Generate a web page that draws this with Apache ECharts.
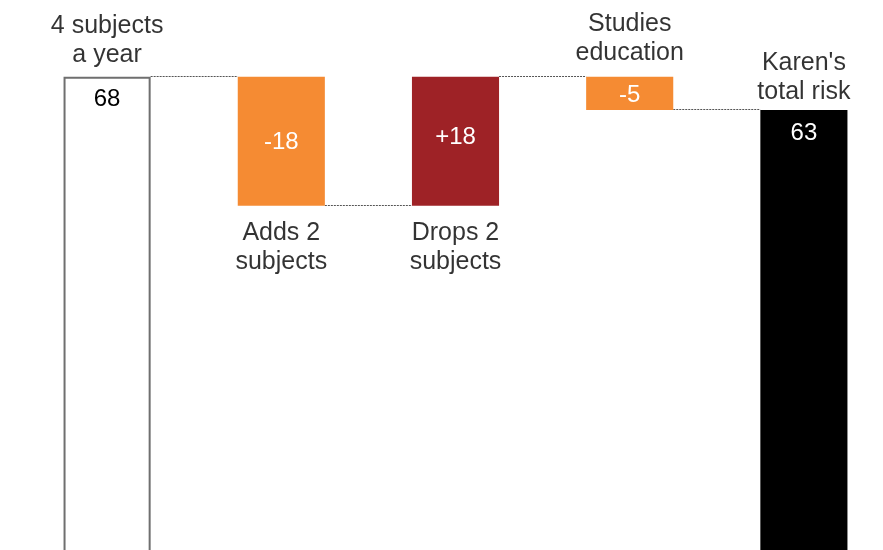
<!DOCTYPE html>
<html>
<head>
<meta charset="utf-8">
<script src="https://cdn.jsdelivr.net/npm/echarts@6/dist/echarts.min.js"></script>
<style>
html,body{margin:0;padding:0;background:#fff;}
#c{width:883px;height:550px;}
</style>
</head>
<body>
<div id="c"></div>
<script>
// Data
const categories = ['4 subjects\na year', 'Adds 2\nsubjects', 'Drops 2\nsubjects', 'Studies\neducation', "Karen's\ntotal risk"];
const kinds = ['total', 'delta', 'delta', 'delta', 'total'];
const changes = [68, -18, 18, -4.65, 63.35];
const valueLabels = ['68', '-18', '+18', '-5', '63'];
const catLabelSide = ['top', 'bottom', 'bottom', 'top', 'top'];

const FONT = "'Liberation Sans', Arial, sans-serif";
const colors = ['#ffffff', '#F58B33', '#9E2226', '#F58B33', '#000000'];
const labelColors = ['#000000', '#ffffff', '#ffffff', '#ffffff', '#ffffff'];

// Waterfall geometry from data
const bases = [], heights = [], levels = [];
let running = 0;
for (let i = 0; i < changes.length; i++) {
  if (kinds[i] === 'total') {
    bases.push(0); heights.push(changes[i]); running = changes[i];
  } else {
    const next = running + changes[i];
    bases.push(Math.min(running, next));
    heights.push(Math.abs(changes[i]));
    running = next;
  }
  levels.push(running);
}

const valueLabelCfg = [
  {position: 'insideTop', distance: 11},
  {position: 'inside', offset: [0, 1]},
  {position: 'inside', offset: [0, -4]},
  {position: 'inside', offset: [0, 2]},
  {position: 'insideTop', distance: 11}
];
const catDist = [7, 13, 13, 9, 3];

const barData = heights.map((h, i) => ({
  value: h,
  itemStyle: i === 0 ? {color: colors[i], borderColor: '#6f6f6f', borderWidth: 2}
                     : {color: colors[i]},
  label: Object.assign({
    show: true,
    formatter: valueLabels[i],
    color: labelColors[i],
    fontSize: 24,
    fontFamily: FONT
  }, valueLabelCfg[i])
}));

const connectorData = [];
for (let i = 0; i < levels.length - 1; i++) connectorData.push([i, levels[i]]);

const scatterData = categories.map((c, i) => {
  const top = bases[i] + heights[i];
  const y = catLabelSide[i] === 'top' ? top : bases[i];
  return {
    value: [i, y],
    label: {
      show: true,
      position: catLabelSide[i],
      distance: catDist[i],
      formatter: c
    }
  };
});

const chart = echarts.init(document.getElementById('c'), null, {renderer: 'canvas'});
chart.setOption({
  animation: false,
  backgroundColor: '#ffffff',
  textStyle: {fontFamily: FONT, color: '#000000'},
  grid: {left: 20, right: -8, top: 76.7, bottom: -14, containLabel: false, outerBoundsMode: 'none'},
  xAxis: {type: 'category', data: categories, show: false},
  yAxis: {type: 'value', min: 0, max: 68, show: false, splitLine: {show: false}},
  series: [
    {
      type: 'bar', stack: 'w', barWidth: '50%', silent: true,
      itemStyle: {color: 'rgba(0,0,0,0)'},
      data: bases
    },
    {
      type: 'bar', stack: 'w', barWidth: '50%', z: 3,
      data: barData
    },
    {
      type: 'custom', z: 1, silent: true,
      data: connectorData,
      renderItem: function (params, api) {
        const i = api.value(0), lvl = api.value(1);
        const p0 = api.coord([i, lvl]);
        const p1 = api.coord([i + 1, lvl]);
        const bw = api.size([1, 0])[0];
        const y = Math.round(p0[1]) - 0.5;
        return {
          type: 'line',
          shape: {x1: p0[0] + bw * 0.25, y1: y, x2: p1[0] - bw * 0.25, y2: y},
          style: {stroke: '#555', lineWidth: 1, lineDash: [2, 1]}
        };
      }
    },
    {
      type: 'scatter', symbolSize: 0, z: 4, silent: true,
      label: {
        show: true,
        color: '#000000',
        fontSize: 25,
        lineHeight: 29,
        align: 'center',
        fontFamily: FONT
      },
      data: scatterData
    }
  ]
});
</script>
</body>
</html>
